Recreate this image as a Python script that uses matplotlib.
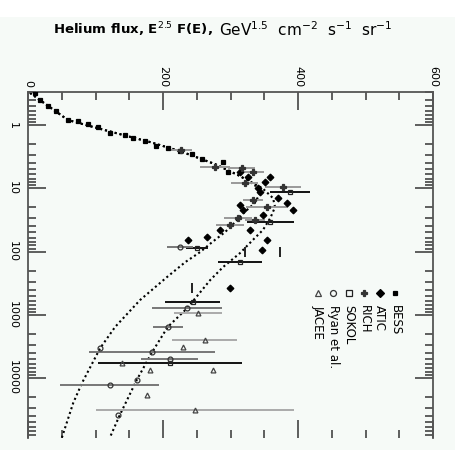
import matplotlib
matplotlib.use("Agg")
import matplotlib.pyplot as plt
import matplotlib.ticker as mticker
from matplotlib.patches import Rectangle

# energy in GeV, flux scaled by E^2.5
bess_E = [0.31, 0.40, 0.50, 0.60, 0.83, 0.86, 0.96, 1.08, 1.34, 1.44, 1.61, 1.79,
          2.15, 2.31, 2.58, 2.87, 3.45, 3.85, 5.54]
bess_f = [10, 18, 30, 41, 59, 74, 89, 104, 121, 144, 156, 173,
          190, 207, 225, 243, 258, 289, 296]

atic_E = [5.54, 6.64, 7.97, 6.64, 9.91, 11.5, 14.3, 17.1, 22.1, 26.5, 18.4, 22.1,
          45.7, 45.7, 59.0, 65.8, 94.7, 65.8, 378]
atic_f = [314, 326, 351, 359, 341, 344, 370, 384, 393, 348, 314, 319,
          329, 284, 265, 354, 347, 237, 299]

rich_E = [2.5, 4.61, 4.79, 5.54, 8.26, 9.56, 15.3, 19.8, 31.8, 29.5, 38.1]
rich_f = [226, 277, 317, 333, 321, 378, 333, 354, 336, 311, 299]
rich_err = [17, 22, 20, 17, 20, 27, 15, 31, 15, 21, 21]

sokol_E = [11.5, 34.2, 88.1, 147, 629, 5800]
sokol_f = [388, 359, 250, 314, 244, 210]
sokol_err = [30, 35, 16, 32, 41, 107]

ryan_E = [85, 782, 1560, 3880, 5010, 12900, 10800, 38500, 3360]
ryan_f = [225, 236, 207, 184, 210, 121, 161, 133, 107]
ryan_err = [19, 52, 22, 93, 42, 73, 0, 0, 0]

jacee_E = [938, 2510, 32000, 3240, 7480, 7480, 18600, 5800]
jacee_f = [252, 262, 247, 230, 181, 274, 176, 139]
jacee_err = [36, 48, 147, 0, 0, 0, 0, 0]

# points shown only with an energy-bin bar
bin_E = [378, 102, 102]
bin_f = [243, 321, 373]

# model curves
model_a_E = [0.31, 0.50, 0.83, 1.04, 1.39, 1.86, 2.58, 4.14, 6.40, 8.89, 11.9, 17.1,
             23.7, 34.2, 49.2, 70.8, 102, 147, 253, 585, 1560, 3360, 12000, 24800, 88900]
model_a_f = [3, 30, 59, 92, 136, 181, 225, 277, 314, 336, 344, 336,
             321, 307, 292, 273, 255, 233, 206, 166, 129, 107, 80, 67, 50]
model_b_E = [0.31, 0.50, 0.83, 1.04, 1.39, 1.86, 2.58, 4.14, 6.40, 9.91, 14.3, 19.8,
             29.5, 45.7, 65.8, 106, 176, 282, 782, 1560, 3880, 10800, 38500, 88900]
model_b_f = [3, 30, 59, 92, 136, 181, 225, 277, 314, 347, 363, 366,
             359, 348, 333, 314, 289, 270, 236, 207, 184, 161, 136, 121]

BG = "#f6faf7"
fig = plt.figure(figsize=(4.55, 4.5), dpi=100, facecolor=BG)
fig.patches.append(Rectangle((0, 1 - 17 / 450), 1, 17 / 450, transform=fig.transFigure,
                             facecolor="white", edgecolor="none", zorder=-1))
ax = fig.add_axes([28 / 455, 1 - 438 / 450, 405 / 455, 346 / 450])
ax.set_facecolor(BG)

dots = (0, (1, 1.4))
ax.plot(model_a_f, model_a_E, color="black", lw=1.5, linestyle=dots, zorder=2)
ax.plot(model_b_f, model_b_E, color="black", lw=1.5, linestyle=dots, zorder=2)

series = [
    ("BESS", bess_f, bess_E, None, "s", 2.6, "black", "black", "black"),
    ("ATIC", atic_f, atic_E, None, "D", 3.4, "black", "black", "black"),
    ("RICH", rich_f, rich_E, rich_err, "P", 4, "#333333", "#333333", "#999999"),
    ("SOKOL", sokol_f, sokol_E, sokol_err, "s", 3.5, "none", "#222222", "#111111"),
    ("Ryan et al.", ryan_f, ryan_E, ryan_err, "o", 3.5, "none", "#333333", "#777777"),
    ("JACEE", jacee_f, jacee_E, jacee_err, "^", 3.5, "none", "#444444", "#aaaaaa"),
]

for name, f, E, err, mk, ms, fc, ec, barc in series:
    ax.errorbar(f, E, xerr=err, fmt=mk, ms=ms, mfc=fc, mec=ec, mew=0.9,
                ecolor=barc, elinewidth=1.4, capsize=0, zorder=3)

ax.plot(bin_f, bin_E, "|", ms=7, mew=1.4, color="#222222", zorder=3)

ax.set_yscale("log")
ax.set_ylim(88900, 0.30)
ax.set_xlim(0, 600)

ax.xaxis.set_ticks_position("both")
ax.xaxis.set_major_locator(mticker.MultipleLocator(200))
ax.xaxis.set_minor_locator(mticker.MultipleLocator(50))
ax.yaxis.set_ticks_position("both")
ax.yaxis.set_major_locator(mticker.FixedLocator([1, 10, 100, 1000, 10000]))
ax.yaxis.set_minor_locator(mticker.LogLocator(base=10, subs=range(2, 10), numticks=20))
ax.yaxis.set_major_formatter(mticker.FuncFormatter(lambda v, _: f"{int(round(v))}"))
ax.yaxis.set_minor_formatter(mticker.NullFormatter())

ax.tick_params(axis="x", which="both", direction="in", labeltop=True, labelbottom=False,
               labelrotation=-90, labelsize=8, pad=3.5, color="#444444")
ax.tick_params(axis="y", which="both", direction="in", labelleft=True, labelright=False,
               labelrotation=-90, labelsize=8, pad=7, color="#444444")
ax.tick_params(which="major", length=13, width=1.2)
ax.tick_params(which="minor", length=6, width=1.2)
for lbl in ax.get_yticklabels():
    lbl.set_verticalalignment("center")

for side in ["top", "left", "right"]:
    ax.spines[side].set_color("#555555")
    ax.spines[side].set_linewidth(1.3)
ax.spines["bottom"].set_visible(False)

# legend laid out as rotated columns, first entry on the right
for i, (name, f, E, err, mk, ms, fc, ec, barc) in enumerate(series):
    lx = 0.906 - 0.038 * i
    ax.plot([lx], [0.419], marker=mk, ms=ms + 0.8, mfc=fc, mec=ec, mew=0.9,
            transform=ax.transAxes, clip_on=False, zorder=4)
    ax.text(lx, 0.384, name, rotation=-90, ha="center", va="top", fontsize=8.5,
            transform=ax.transAxes)

fig.text(213 / 455, 1 - 30 / 450, r"Helium flux, E$^{2.5}$ F(E),", ha="right", va="center",
         fontsize=9.5, fontweight="bold")
fig.text(219 / 455, 1 - 30 / 450, r"GeV$^{1.5}$  cm$^{-2}$  s$^{-1}$  sr$^{-1}$", ha="left",
         va="center", fontsize=11)

fig.savefig("out.png", dpi=100, facecolor=BG)
